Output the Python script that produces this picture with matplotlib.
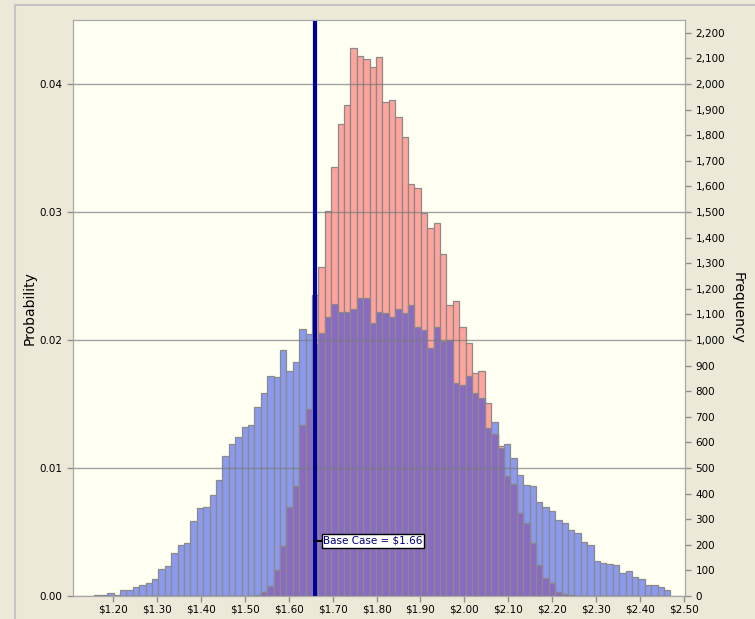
import matplotlib
matplotlib.use('Agg')
import matplotlib.pyplot as plt
from matplotlib.patches import Rectangle
from matplotlib.ticker import FuncFormatter
import numpy as np

plt.rcParams['font.family'] = ['DejaVu Sans']

# histogram bins (same for both forecasts)
bin_start = 1.1574
bin_width = 0.014572
n_trials = 50000
base_case = 1.66

# frequency per bin, wide forecast (blue)
freq_blue = [3, 3, 12, 3, 23, 23, 36, 43, 52, 68,
             104, 117, 169, 198, 206, 292, 344, 348, 396, 453,
             547, 592, 621, 660, 668, 737, 792, 859, 855, 960,
             879, 915, 1042, 1022, 986, 1026, 1091, 1139, 1111, 1111,
             1123, 1163, 1163, 1065, 1111, 1107, 1088, 1120, 1107, 1135,
             1051, 1039, 969, 1050, 996, 1000, 831, 824, 859, 794,
             772, 658, 681, 577, 592, 538, 473, 434, 430, 367,
             349, 331, 295, 287, 258, 247, 209, 198, 137, 128,
             125, 121, 89, 97, 75, 67, 43, 43, 35, 22]

# frequency per bin, narrow forecast (red)
freq_red = [0, 0, 0, 0, 0, 0, 0, 0, 0, 0,
            0, 0, 0, 0, 0, 0, 0, 0, 0, 0,
            0, 0, 0, 0, 1, 4, 16, 40, 102, 195,
            349, 430, 668, 729, 1174, 1286, 1504, 1676, 1845, 1918,
            2142, 2109, 2096, 2068, 2104, 1931, 1937, 1870, 1792, 1609,
            1592, 1497, 1439, 1456, 1335, 1135, 1151, 1049, 987, 872,
            879, 753, 631, 587, 469, 436, 323, 284, 208, 121,
            72, 49, 14, 8, 2, 0, 0, 0, 0, 0,
            0, 0, 0, 0, 0, 0, 0, 0, 0, 0]

x_ticks = [1.20, 1.30, 1.40, 1.50, 1.60, 1.70, 1.80, 1.90, 2.00,
           2.10, 2.20, 2.30, 2.40, 2.50]
prob_ticks = [0.00, 0.01, 0.02, 0.03, 0.04]
freq_ticks = list(range(0, 2201, 100))

blue = np.array(freq_blue) / n_trials
red = np.array(freq_red) / n_trials
overlap = np.minimum(blue, red)
lefts = bin_start + bin_width * np.arange(len(freq_blue))

fig = plt.figure(figsize=(7.55, 6.19), dpi=100)
fig.patch.set_facecolor('#ECE9D8')
fig.add_artist(Rectangle((15 / 755, -0.1), 1.1, (614 / 619) + 0.1,
                         transform=fig.transFigure, fill=False,
                         edgecolor='#C4C4C4', lw=1.5))

ax = fig.add_axes([73 / 755, 23 / 619, 612 / 755, 576 / 619])
ax.set_facecolor('#FFFFF2')

ec = '#8A8A8A'
ax.bar(lefts, blue, width=bin_width, align='edge', color='#8B9AEE',
       edgecolor=ec, linewidth=0.9, zorder=2)
ax.bar(lefts, red, width=bin_width, align='edge', color='#FFA49C',
       edgecolor=ec, linewidth=0.9, zorder=2.1)
ax.bar(lefts, overlap, width=bin_width, align='edge', color='#8A6BC2',
       edgecolor=ec, linewidth=0.9, zorder=2.2)

ax.set_axisbelow(False)
ax.grid(axis='y', color='#7A7A7A', linewidth=1, alpha=0.7)

ax.axvline(base_case, color='#00009E', linewidth=3, zorder=4)
ax.annotate('Base Case = $%.2f' % base_case, xy=(base_case, 0.0043),
            xytext=(6, 0), textcoords='offset points', ha='left', va='center',
            fontsize=7.5, color='#000080', zorder=5,
            bbox=dict(boxstyle='square,pad=0.15', fc='white', ec='black', lw=1),
            arrowprops=dict(arrowstyle='-', color='black', lw=1.5,
                            shrinkA=0, shrinkB=0))

ax.set_xlim(1.1089, 2.5023)
ax.set_ylim(0, 0.045)
ax.set_xticks(x_ticks)
ax.set_xticklabels(['$%.2f' % v for v in x_ticks])
ax.set_yticks(prob_ticks)
ax.set_yticklabels(['%.2f' % v for v in prob_ticks])
ax.tick_params(axis='both', labelsize=7.5, colors='#909090',
               labelcolor='black', length=4, width=1, direction='out')
ax.tick_params(axis='x', pad=2)
ax.set_ylabel('Probability', fontsize=10, labelpad=2)
for s in ax.spines.values():
    s.set_color('#A8A8A8')

ax2 = ax.twinx()
ax2.set_ylim(0, 0.045 * n_trials)
ax2.set_yticks(freq_ticks)
ax2.yaxis.set_major_formatter(FuncFormatter(lambda v, p: '{:,.0f}'.format(v)))
ax2.tick_params(axis='y', labelsize=7.5, colors='#909090',
                labelcolor='black', length=4, width=1, direction='out')
ax2.set_ylabel('Frequency', fontsize=10, rotation=270, labelpad=14)
for s in ax2.spines.values():
    s.set_color('#A8A8A8')

fig.savefig('out.png', dpi=100, facecolor=fig.get_facecolor())
